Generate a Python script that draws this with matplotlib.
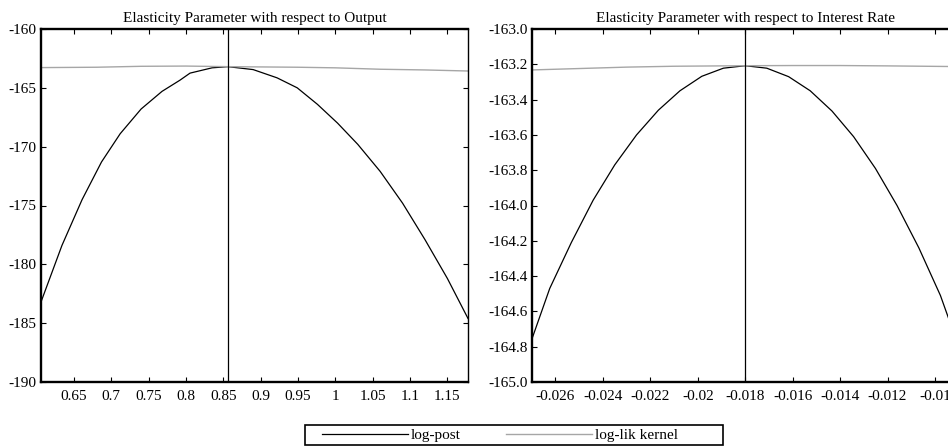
import numpy as np
import matplotlib
matplotlib.use('Agg')
import matplotlib.pyplot as plt
from matplotlib.patches import Rectangle
from matplotlib.ticker import FormatStrFormatter

plt.rcParams['font.family'] = ['Liberation Serif', 'DejaVu Serif']
plt.rcParams['font.size'] = 11
plt.rcParams['axes.unicode_minus'] = False

# --- data ---
# output elasticity
out_x = [0.606, 0.634, 0.661, 0.687, 0.712, 0.740, 0.768, 0.792, 0.8055, 0.835,
         0.856, 0.890, 0.922, 0.949, 0.976, 1.003, 1.030, 1.060, 1.090, 1.120,
         1.150, 1.1776]
out_post = [-183.2, -178.4, -174.5, -171.3, -168.9, -166.8, -165.3, -164.35, -163.75, -163.3,
            -163.2, -163.45, -164.15, -165.0, -166.4, -168.0, -169.8, -172.1, -174.8, -177.9,
            -181.2, -184.6]
out_lik_x = [0.606, 0.68, 0.74, 0.80, 0.856, 0.95, 1.0, 1.06, 1.12, 1.1776]
out_lik = [-163.28, -163.25, -163.17, -163.15, -163.2, -163.25, -163.3, -163.42, -163.48, -163.57]
out_mode = 0.856

# interest rate elasticity
ir_x = [-0.027, -0.02624, -0.02533, -0.02441, -0.0235, -0.02258, -0.02166, -0.02075,
        -0.01983, -0.01892, -0.018, -0.01709, -0.01617, -0.01526, -0.01434, -0.01343,
        -0.01251, -0.01160, -0.01068, -0.00977, -0.009]
ir_post = [-164.76, -164.47, -164.21, -163.97, -163.77, -163.60, -163.46, -163.35,
           -163.268, -163.222, -163.208, -163.222, -163.27, -163.35, -163.465, -163.61,
           -163.79, -164.0, -164.24, -164.51, -164.8]
ir_lik_x = [-0.027, -0.025, -0.023, -0.021, -0.019, -0.018, -0.016, -0.014, -0.012, -0.009]
ir_lik = [-163.232, -163.224, -163.216, -163.211, -163.209, -163.208, -163.207, -163.207,
          -163.209, -163.213]
ir_mode = -0.018

fig = plt.figure(figsize=(9.48, 4.47), dpi=100)
W, H = 948.0, 447.0
ax1 = fig.add_axes([41 / W, 1 - 382 / H, 427 / W, 353 / H])
ax2 = fig.add_axes([531.7 / W, 1 - 382 / H, 427 / W, 353 / H])

grey = '#a6a6a6'


def style(ax):
    ax.tick_params(direction='in', top=True, right=True, length=3.5, width=0.8,
                   labelsize=11, pad=3)
    ax.tick_params(axis='x', pad=6)
    for s in ['left', 'top', 'bottom']:
        ax.spines[s].set_linewidth(1.7)
    ax.spines['right'].set_linewidth(1.0)


# left panel
l1, = ax1.plot(out_x, out_post, color='black', lw=0.9)
l2, = ax1.plot(out_lik_x, out_lik, color=grey, lw=1.0)
ax1.axvline(out_mode, color='black', lw=0.9)
ax1.set_xlim(0.606, 1.1776)
ax1.set_ylim(-190, -160)
ax1.set_xticks([0.65, 0.7, 0.75, 0.8, 0.85, 0.9, 0.95, 1.0, 1.05, 1.1, 1.15])
ax1.xaxis.set_major_formatter(FormatStrFormatter('%g'))
ax1.set_yticks(np.arange(-190, -159, 5))
ax1.set_title('Elasticity Parameter with respect to Output', fontsize=11, pad=5)
style(ax1)

# right panel
ax2.plot(ir_x, ir_post, color='black', lw=0.9)
ax2.plot(ir_lik_x, ir_lik, color=grey, lw=1.0)
ax2.axvline(ir_mode, color='black', lw=0.9)
ax2.set_xlim(-0.027, -0.009)
ax2.set_ylim(-165.0, -163.0)
ax2.set_xticks([-0.026, -0.024, -0.022, -0.02, -0.018, -0.016, -0.014, -0.012, -0.01])
ax2.xaxis.set_major_formatter(FormatStrFormatter('%g'))
ax2.set_yticks(np.round(np.arange(-165.0, -162.99, 0.2), 1))
ax2.yaxis.set_major_formatter(FormatStrFormatter('%.1f'))
ax2.set_title('Elasticity Parameter with respect to Interest Rate', fontsize=11, pad=5)
style(ax2)

# legend box
fig.patches.append(Rectangle((305 / W, 1 - 445 / H), 418 / W, 20 / H,
                             transform=fig.transFigure, fill=False,
                             edgecolor='black', lw=1.2))
fig.legend([l1, l2], ['log-post', 'log-lik kernel'], loc='center left',
           bbox_to_anchor=(322 / W, 1 - 435 / H), ncol=2, frameon=False,
           borderpad=0, borderaxespad=0, handlelength=5.6, handletextpad=0.2,
           columnspacing=3.0, fontsize=11)

fig.savefig('out.png', dpi=100)
